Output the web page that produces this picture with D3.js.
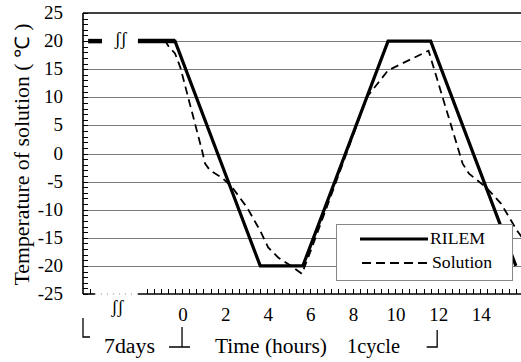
<!DOCTYPE html>
<html>
<head>
<meta charset="utf-8">
<script src="https://cdn.jsdelivr.net/npm/d3@7"></script>
<style>
  body { margin: 0; background: #fff; }
</style>
</head>
<body>
<div id="chart"></div>
<script>
// data (time in hours, temperature in degC)
const rilemTime = [-1.74, 0, 4, 6, 10, 12, 16];
const rilemTemp = [20, 20, -20, -20, 20, 20, -20];
const solutionTime = [-1.74, -0.45, -0.33, 0, 0.25, 1.27, 1.41, 1.64, 2.2, 2.68, 3.38, 3.99, 4.37, 4.84, 5.4, 5.96, 6.4, 8.0, 9.0, 10.0, 11.9, 13.5, 13.8, 14.6, 15.3, 16.05, 16.3];
const solutionTemp = [20, 20, 19.2, 17.8, 15.3, 0.5, -1.8, -3, -4.3, -6, -9.6, -13.7, -16.7, -18.5, -19.9, -21.4, -17, -0.5, 10, 14.8, 18.3, -1.8, -3.6, -6, -8.9, -13.7, -15];
const yTicks = [25, 20, 15, 10, 5, 0, -5, -10, -15, -20, -25];
const xTicks = [0, 2, 4, 6, 8, 10, 12, 14];
// the "7days" part before the cycle is cut by a break
const breakStart = -3.43, breakEnd = -1.74, preStart = -4.08;

const serif = '"Liberation Serif"';

const margin = { top: 13, right: 0, bottom: 68, left: 83 },
  width = 521 - margin.left - margin.right,
  height = 362 - margin.top - margin.bottom;

const svg = d3.select("#chart")
  .append("svg")
  .attr("width", 521)
  .attr("height", 362)
  .append("g")
  .attr("transform", `translate(${margin.left},${margin.top})`);

const x = d3.scaleLinear().domain([-4.32, 16.24]).range([0, width]);
const y = d3.scaleLinear().domain([-25, 25]).range([height, 0]);

// helper for text
function label(sel, size, len) {
  sel.style("font-family", serif).style("font-size", size + "px").attr("fill", "#000");
  if (len) sel.attr("textLength", len).attr("lengthAdjust", "spacingAndGlyphs");
  return sel;
}

// grid lines
svg.selectAll(".grid")
  .data(yTicks.filter(d => d > -25 && d < 25))
  .join("line")
  .attr("x1", 0).attr("x2", width)
  .attr("y1", d => Math.round(y(d)) + 0.5).attr("y2", d => Math.round(y(d)) + 0.5)
  .attr("stroke", "#7a7a7a")
  .attr("stroke-width", 1);

// white gap where the break sits on the 20 line
svg.append("rect")
  .attr("x", x(breakStart)).attr("width", x(breakEnd) - x(breakStart))
  .attr("y", y(20) - 4).attr("height", 8)
  .attr("fill", "#fff");

// y axis minor ticks (inside)
svg.selectAll(".ytick")
  .data(d3.range(-25, 26))
  .join("line")
  .attr("x1", 0).attr("x2", 5)
  .attr("y1", d => Math.round(y(d)) + 0.5).attr("y2", d => Math.round(y(d)) + 0.5)
  .attr("stroke", "#000").attr("stroke-width", 1);

// x axis minor ticks every 20 minutes
const xt = d3.range(-4, 16.2, 1 / 3).filter(t => t < -3.7 || t > breakEnd + 0.3);
svg.selectAll(".xtick")
  .data(xt)
  .join("line")
  .attr("x1", d => Math.round(x(d)) + 0.5).attr("x2", d => Math.round(x(d)) + 0.5)
  .attr("y1", height).attr("y2", height - 5)
  .attr("stroke", "#000").attr("stroke-width", 1);

// axes lines
svg.append("line").attr("x1", 0).attr("x2", 0).attr("y1", 0).attr("y2", height)
  .attr("stroke", "#000").attr("stroke-width", 1.6);
svg.append("line").attr("x1", 0).attr("x2", width).attr("y1", 0).attr("y2", 0)
  .attr("stroke", "#000").attr("stroke-width", 1.6);
svg.append("line").attr("x1", 0).attr("x2", x(-3.76)).attr("y1", height).attr("y2", height)
  .attr("stroke", "#000").attr("stroke-width", 1.6);
svg.append("line").attr("x1", x(-3.76)).attr("x2", x(breakEnd)).attr("y1", height).attr("y2", height)
  .attr("stroke", "#888").attr("stroke-width", 1).attr("stroke-dasharray", "1,5");
svg.append("line").attr("x1", x(breakEnd)).attr("x2", width).attr("y1", height).attr("y2", height)
  .attr("stroke", "#000").attr("stroke-width", 1.6);

// y labels
svg.selectAll(".ylab")
  .data(yTicks)
  .join("text")
  .attr("x", -20).attr("y", d => y(d) + 6)
  .attr("text-anchor", "end")
  .call(label, 19)
  .text(d => d);

// x labels
svg.selectAll(".xlab")
  .data(xTicks)
  .join("text")
  .attr("x", d => x(d) + 8).attr("y", height + 27)
  .attr("text-anchor", "middle")
  .call(label, 19)
  .text(d => d);

// lines
const line = d3.line().x(d => x(d[0])).y(d => y(d[1]));
svg.append("path")
  .datum(solutionTime.map((t, i) => [t, solutionTemp[i]]))
  .attr("d", line)
  .attr("fill", "none").attr("stroke", "#000").attr("stroke-width", 1.8)
  .attr("stroke-dasharray", "8,5");
svg.append("path")
  .datum(rilemTime.map((t, i) => [t, rilemTemp[i]]))
  .attr("d", line)
  .attr("fill", "none").attr("stroke", "#000").attr("stroke-width", 3.2)
  .attr("stroke-linejoin", "miter");
// thick lead-in before the cycle
svg.append("line")
  .attr("x1", x(preStart)).attr("x2", x(breakStart))
  .attr("y1", y(20)).attr("y2", y(20))
  .attr("stroke", "#000").attr("stroke-width", 4.5);
svg.append("line")
  .attr("x1", x(breakEnd)).attr("x2", x(0))
  .attr("y1", y(20)).attr("y2", y(20))
  .attr("stroke", "#000").attr("stroke-width", 4.5);

// break symbols
svg.append("text")
  .attr("transform", `translate(${x(-2.55)},${y(20) - 1}) rotate(180)`)
  .attr("text-anchor", "middle")
  .attr("dominant-baseline", "middle")
  .call(label, 18)
  .text("ʃʃ");
svg.append("text")
  .attr("x", x(-2.7)).attr("y", height + 19)
  .attr("text-anchor", "middle")
  .call(label, 18)
  .text("ʃʃ");

// legend
const lg = svg.append("g").attr("transform", `translate(${336 - margin.left},${224 - margin.top})`);
lg.append("rect").attr("x", 0.5).attr("y", 0.5).attr("width", 176).attr("height", 56)
  .attr("fill", "#fff").attr("stroke", "#888").attr("stroke-width", 1);
lg.append("line").attr("x1", 24).attr("x2", 92).attr("y1", 15).attr("y2", 15)
  .attr("stroke", "#000").attr("stroke-width", 3.2);
lg.append("text").attr("x", 94).attr("y", 20).call(label, 17, 55).text("RILEM");
lg.append("line").attr("x1", 26).attr("x2", 94).attr("y1", 39).attr("y2", 39)
  .attr("stroke", "#000").attr("stroke-width", 1.8).attr("stroke-dasharray", "9,5");
lg.append("text").attr("x", 96).attr("y", 44).call(label, 17, 60).text("Solution");

// axis title
svg.append("text")
  .attr("transform", `translate(-54,${height / 2 + 1}) rotate(-90)`)
  .attr("text-anchor", "middle")
  .call(label, 20, 262)
  .text("Temperature of solution (  \u2103 )");

// bottom annotations: 7days bracket and the one cycle span
const ann = svg.append("g").attr("stroke", "#000").attr("stroke-width", 1.3).attr("fill", "none");
ann.append("path").attr("d", `M0,${height + 24}V${height + 43}H7`);
ann.append("path").attr("d", `M${x(0) + 7},${height + 33}V${height + 53}M${x(0) - 6},${height + 53}H${x(0) + 15}`);
ann.append("path").attr("d", `M${x(12) + 6.5},${height + 36}V${height + 53}H${x(12) - 4}`);
svg.append("text").attr("x", 21).attr("y", height + 59).call(label, 20, 51).text("7days");
svg.append("text").attr("x", 132).attr("y", height + 59).call(label, 20, 112).text("Time (hours)");
svg.append("text").attr("x", 264).attr("y", height + 59).call(label, 20, 53).text("1cycle");
</script>
</body>
</html>
